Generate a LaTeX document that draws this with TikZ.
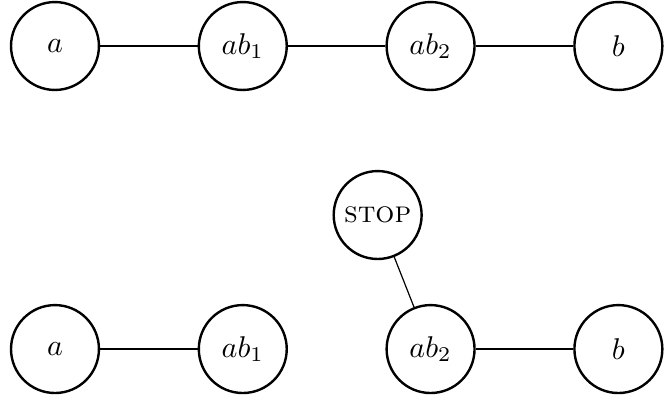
\documentclass[tikz,border=0pt]{standalone}
\usepackage{tikz}
\usetikzlibrary{positioning}
\tikzstyle{vertex} = [circle, draw, thick, minimum size=1.03cm, inner sep=0pt]
\tikzstyle{edge} = [draw]

\begin{document}
\begin{tikzpicture}[auto,
                    node distance = 2.2cm]
  \useasboundingbox (-0.644,0.539) rectangle (7.146,-4.171);
  % top row
  \node [vertex] (a) {$a$};
  \node [vertex, right of=a] (ab1) {$ab_1$};
  \node [vertex, right of=ab1] (ab2) {$ab_2$};
  \node [vertex, right of=ab2] (b) {$b$};
  \path [edge] (a) -- (ab1);
  \path [edge] (ab1) -- (ab2);
  \path [edge] (ab2) -- (b);
  % bottom row
  \node [vertex] at (0,-3.55) (la) {$a$};
  \node [vertex, right of=la] (lab1) {$ab_1$};
  \node [vertex, right of=lab1] (lab2) {$ab_2$};
  \node [vertex, right of=lab2] (lb) {$b$};
  \node [vertex] at (3.78,-1.98) (stop) {\textsc{stop}};
  \path [edge] (la) -- (lab1);
  \path [edge] (lab2) -- (lb);
  \path [edge] (stop) -- (lab2);
\end{tikzpicture}
\end{document}
